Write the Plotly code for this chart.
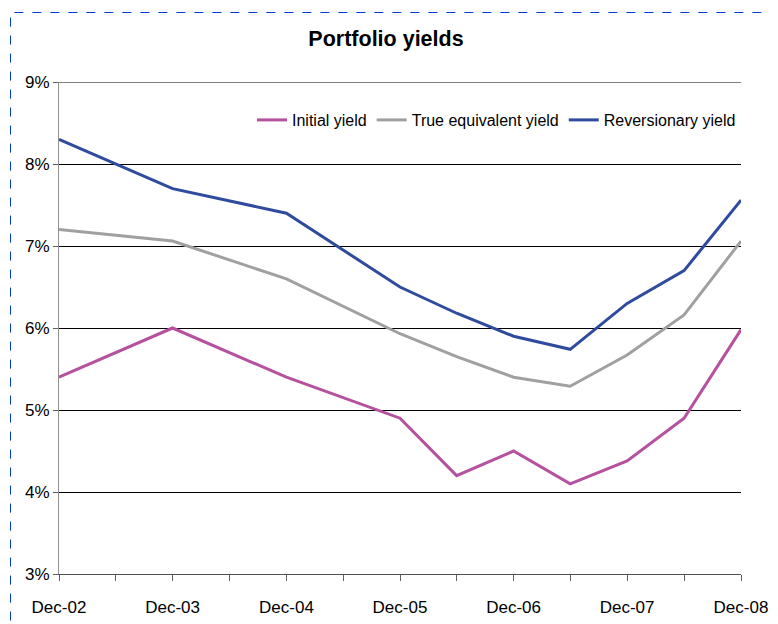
import plotly.graph_objects as go

dates = ["2002-12-01", "2003-12-01", "2004-12-01", "2005-12-01", "2006-06-01",
         "2006-12-01", "2007-06-01", "2007-12-01", "2008-06-01", "2008-12-01"]
initial_yield = [5.4, 6.0, 5.4, 4.9, 4.2, 4.5, 4.1, 4.38, 4.9, 5.98]
true_equiv_yield = [7.2, 7.06, 6.6, 5.93, 5.65, 5.4, 5.29, 5.67, 6.16, 7.06]
reversionary_yield = [8.3, 7.7, 7.4, 6.5, 6.18, 5.9, 5.74, 6.3, 6.7, 7.56]

tick_dates = ["2002-12-01", "2003-12-01", "2004-12-01", "2005-12-01",
              "2006-12-01", "2007-12-01", "2008-12-01"]
tick_labels = ["Dec-02", "Dec-03", "Dec-04", "Dec-05", "Dec-06", "Dec-07", "Dec-08"]

FONT = "Liberation Sans Narrow, Arial Narrow, Liberation Sans, Arial, sans-serif"

# page body has an 8px margin; figure is sized/offset to compensate
W, H = 770, 616
L, R, T, B = 51, 37, 74, 50
PW, PH = W - L - R, H - T - B

fig = go.Figure()
fig.add_trace(go.Scatter(x=dates, y=initial_yield, mode="lines", name="Initial yield",
                         line=dict(color="#B5519F", width=3)))
fig.add_trace(go.Scatter(x=dates, y=true_equiv_yield, mode="lines", name="True equivalent yield",
                         line=dict(color="#A0A0A0", width=3)))
fig.add_trace(go.Scatter(x=dates, y=reversionary_yield, mode="lines", name="Reversionary yield",
                         line=dict(color="#2F4B9E", width=3)))

fig.update_layout(
    width=W, height=H,
    margin=dict(l=L, r=R, t=T, b=B, autoexpand=False),
    paper_bgcolor="white", plot_bgcolor="white",
    font=dict(family=FONT, size=17, color="black"),
    title=dict(text="<b>Portfolio yields</b>", x=(386 - 8 - L) / PW, xref="paper", xanchor="center",
               y=1 - 30 / H, yanchor="middle", font=dict(size=21.5, family=FONT)),
    showlegend=True,
    legend=dict(orientation="h", x=(244 - L) / PW, xanchor="left", y=1 - (120 - 82) / PH, yanchor="middle",
                bgcolor="rgba(0,0,0,0)", font=dict(size=16), itemwidth=30,
                tracegroupgap=0, entrywidthmode="pixels"),
    shapes=[
        dict(type="rect", xref="paper", yref="paper",
             x0=(2.5 - L) / PW, x1=1.2, y0=-0.3, y1=1 + (T - 4.5) / PH,
             line=dict(color="#0038D0", width=1, dash="dash")),
        dict(type="line", xref="paper", yref="y", x0=0, x1=1, y0=9, y1=9,
             line=dict(color="black", width=1)),
    ],
)

fig.update_xaxes(
    type="date", range=["2002-12-01", "2008-12-01"], automargin=False,
    tickvals=tick_dates, ticktext=tick_labels,
    ticks="outside", ticklen=6, tickcolor="#606060",
    showline=True, linecolor="#505050", linewidth=1,
    showgrid=False, zeroline=False,
    minor=dict(dtick="M6", tick0="2002-12-01", ticks="outside", ticklen=6, tickcolor="#606060", showgrid=False),
    tickfont=dict(size=17), ticklabelstandoff=12,
)
fig.update_yaxes(
    range=[3, 9], dtick=1, ticksuffix="%", automargin=False,
    ticks="outside", ticklen=5, tickcolor="#606060",
    showline=True, linecolor="#909090", linewidth=1,
    showgrid=True, gridcolor="black", gridwidth=1, zeroline=False,
    tickfont=dict(size=17),
)

fig.write_html("out.html")
